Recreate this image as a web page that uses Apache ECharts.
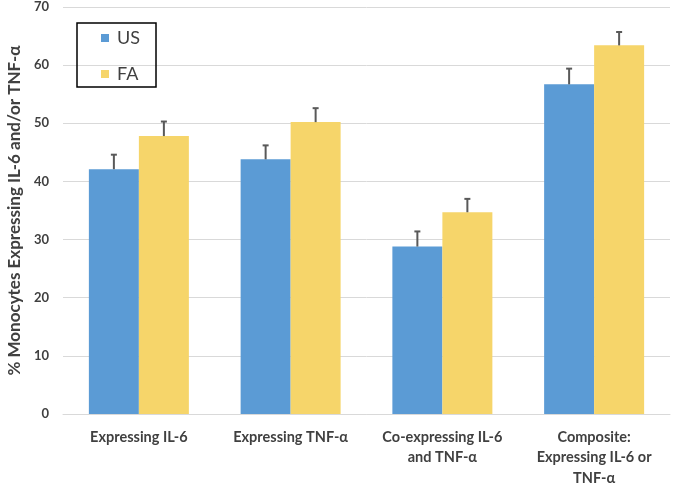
<!DOCTYPE html>
<html><head><meta charset="utf-8">
<script src="https://cdn.jsdelivr.net/npm/echarts@6/dist/echarts.min.js"></script>
<style>html,body{margin:0;padding:0;background:#fff}#c{width:674px;height:483px}</style>
</head><body><div id="c"></div>
<script>
const categories = ['Expressing IL-6', 'Expressing TNF-α', 'Co-expressing IL-6\nand TNF-α', 'Composite:\nExpressing IL-6 or\nTNF-α'];
const usValues = [42.1, 43.8, 28.8, 56.7];
const faValues = [47.8, 50.2, 34.7, 63.4];
const usErr = [2.5, 2.4, 2.6, 2.7];
const faErr = [2.5, 2.4, 2.3, 2.3];
const yTicks = [0, 10, 20, 30, 40, 50, 60, 70];

const chart = echarts.init(document.getElementById('c'));
const FONT = 'Lato';
function errSeries(values, errs, offsetIdx) {
  return {
    type: 'custom',
    z: 10,
    data: values.map((v, i) => [i, v, v + errs[i]]),
    renderItem: function (params, api) {
      const i = api.value(0);
      const base = api.coord([i, api.value(1)]);
      const top = api.coord([i, api.value(2)]);
      const barW = 50;
      const x = base[0] + (offsetIdx === 0 ? -barW / 2 : barW / 2);
      return {
        type: 'group',
        children: [
          { type: 'line', shape: { x1: x, y1: base[1], x2: x, y2: top[1] }, style: { stroke: '#595959', lineWidth: 2 } },
          { type: 'line', shape: { x1: x - 3, y1: top[1], x2: x + 3, y2: top[1] }, style: { stroke: '#595959', lineWidth: 2 } }
        ]
      };
    },
    silent: true
  };
}
chart.setOption({
  animation: false,
  textStyle: { fontFamily: FONT },
  grid: { left: 63, right: 4, top: 7, bottom: 69, containLabel: false, outerBoundsMode: 'none' },
  legend: {
    data: ['US', 'FA'],
    orient: 'vertical',
    left: 77, top: 23,
    padding: [6, 16, 4, 24],
    itemGap: 18,
    itemWidth: 8, itemHeight: 8,
    icon: 'rect',
    borderColor: '#000', borderWidth: 1.5,
    textStyle: { fontSize: 18, color: '#404040', fontFamily: FONT, padding: [0, 0, 0, 3] }
  },
  xAxis: {
    type: 'category',
    data: categories,
    axisLine: { show: true, lineStyle: { color: '#d9d9d9', width: 1 } },
    axisTick: { show: false },
    axisLabel: { fontSize: 14.5, fontWeight: 'bold', color: '#404040', lineHeight: 20.5, margin: 13, interval: 0, fontFamily: FONT }
  },
  yAxis: {
    type: 'value',
    min: 0, max: 70, interval: 10,
    name: '% Monocytes Expressing IL-6 and/or TNF-α',
    nameLocation: 'middle',
    nameGap: 40,
    nameTextStyle: { fontSize: 17, fontWeight: 'bold', color: '#404040', fontFamily: FONT },
    axisLine: { show: false },
    axisTick: { show: false },
    splitLine: { lineStyle: { color: '#d9d9d9', width: 1 } },
    axisLabel: { fontSize: 13, fontWeight: 'bold', color: '#404040', margin: 14, fontFamily: FONT,
      formatter: v => yTicks.includes(v) ? String(v) : '' }
  },
  series: [
    { name: 'US', type: 'bar', data: usValues, barWidth: 50, barGap: '0%', itemStyle: { color: '#5B9BD5' } },
    { name: 'FA', type: 'bar', data: faValues, barWidth: 50, barGap: '0%', itemStyle: { color: '#F6D56A' } },
    errSeries(usValues, usErr, 0),
    errSeries(faValues, faErr, 1)
  ]
});
</script></body></html>
